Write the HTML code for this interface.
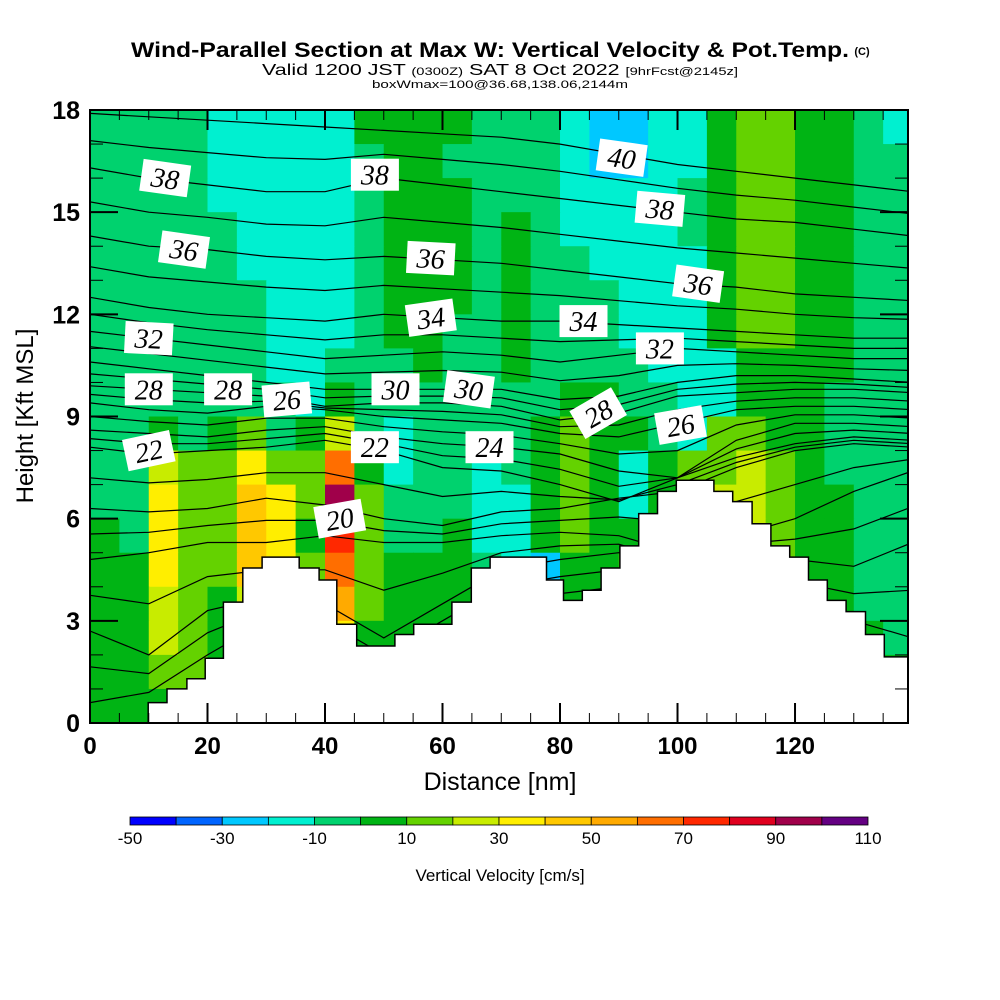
<!DOCTYPE html>
<html><head><meta charset="utf-8"><style>
html,body{margin:0;padding:0;background:#fff;}
svg{display:block;font-family:"Liberation Sans",sans-serif;}
</style></head><body>
<svg id="chart" width="1000" height="1000" viewBox="0 0 1000 1000">
<defs><clipPath id="plotclip"><rect x="90" y="110" width="818" height="613"/></clipPath></defs>
<g>
<text x="490" y="57" text-anchor="middle" font-size="21" font-weight="bold" textLength="718" lengthAdjust="spacingAndGlyphs">Wind-Parallel Section at Max W: Vertical Velocity &amp; Pot.Temp.</text>
<text x="862" y="55" text-anchor="middle" font-size="11" font-weight="bold">(C)</text>
<text x="500" y="75" text-anchor="middle" font-size="16" textLength="476" lengthAdjust="spacingAndGlyphs">Valid 1200 JST <tspan font-size="11">(0300Z)</tspan> SAT 8 Oct 2022 <tspan font-size="11">[9hrFcst@2145z]</tspan></text>
<text x="500" y="88" text-anchor="middle" font-size="11" textLength="256" lengthAdjust="spacingAndGlyphs">boxWmax=100@36.68,138.06,2144m</text>
</g>
<g id="field" clip-path="url(#plotclip)"></g>
<g id="isen" clip-path="url(#plotclip)"></g>
<g id="terrain" clip-path="url(#plotclip)"></g>
<g id="labels"></g>
<rect x="90" y="110" width="818" height="613" fill="none" stroke="#000" stroke-width="2"/>
<g id="axes"></g>
<text x="500" y="790" text-anchor="middle" font-size="25">Distance [nm]</text>
<text transform="translate(33,416) rotate(-90)" text-anchor="middle" font-size="24">Height [Kft MSL]</text>
<g id="cbar"></g>
<text x="500" y="881" text-anchor="middle" font-size="17">Vertical Velocity [cm/s]</text>
</svg>
<script>
// ---- data ----
const colCenters=[2.5,7.5,12.5,17.5,22.5,27.5,32.5,37.5,42.5,47.5,52.5,57.5,62.5,67.5,72.5,77.5,82.5,87.5,92.5,97.5,102.5,107.5,112.5,117.5,122.5,127.5,132.5,137.5];
const rowCenters=[17.5,16.5,15.5,14.5,13.5,12.5,11.5,10.5,9.5,8.5,7.5,6.5,5.5,4.5,3.5,2.5,1.5,0.5];
const wRow0=[-5,-5,-5,-5,-15,-15,-15,-15,-15,5,5,5,5,-5,-5,-5,-15,-25,-25,-15,-15,5,15,15,5,5,-5,-15];
const wRow1=[-5,-5,-5,-5,-15,-15,-15,-15,-15,-5,5,5,-5,-5,-5,-5,-15,-25,-25,-15,-15,5,15,15,5,5,-5,-5];
const wRow2=[-5,-5,-5,-5,-15,-15,-15,-15,-15,-5,5,5,5,-5,-5,-5,-15,-15,-15,-15,-5,5,15,15,5,5,-5,-5];
const wRow3=[-5,-5,-5,-5,-5,-15,-15,-15,-15,-5,5,5,5,-5,5,-5,-15,-15,-15,-15,-5,5,15,15,5,5,-5,-5];
const wRow4=[-5,-5,-5,-5,-5,-15,-15,-15,-15,-5,5,5,5,-5,5,-5,-5,-15,-15,-15,-15,5,15,15,5,5,-5,-5];
const wRow5=[-5,-5,-5,-5,-5,-5,-15,-15,-15,-5,5,5,5,-5,5,-5,-5,-5,-15,-15,-15,5,15,15,5,5,-5,-5];
const wRow6=[-5,-5,-5,-5,-5,-5,-15,-15,-15,-5,5,5,-5,-5,5,-5,-5,-5,-15,-15,-15,5,15,15,5,5,-5,-5];
const wRow7=[-5,-5,-5,-5,-5,-5,-15,-15,-5,-5,-5,5,-5,-5,5,-5,-5,-5,-5,-15,-15,-15,5,5,5,5,-5,-5];
const wRow8=[-5,-5,-5,-5,-5,-5,-5,-15,5,-5,-5,-5,-5,-5,-5,-5,5,5,-5,-5,-15,-15,5,5,5,-5,-5,-5];
const wRow9=[-5,-5,5,-5,5,15,-5,5,25,-5,-15,-5,-5,-5,-5,5,15,5,5,-5,-15,15,15,5,5,-5,-5,-5];
const wRow10=[-5,-5,25,15,15,35,15,15,65,5,-15,-5,-5,-15,-5,5,15,5,-15,5,15,15,25,15,5,-5,-5,-5];
const wRow11=[-5,-5,35,15,15,45,35,15,95,15,-5,-5,-5,-15,-15,5,15,5,-15,5,15,25,25,15,5,5,-5,-5];
const wRow12=[5,-5,35,15,15,45,35,5,75,15,-5,-5,5,-15,-15,5,15,5,5,5,15,25,25,15,5,5,-5,-5];
const wRow13=[5,5,35,15,15,45,35,15,65,15,5,5,5,-5,-15,-25,5,5,15,15,15,15,25,15,5,5,-5,-5];
const wRow14=[5,5,25,15,5,25,15,15,55,15,5,5,5,5,5,5,5,5,15,15,15,15,15,15,5,5,-5,-5];
const wRow15=[5,5,25,15,5,15,5,5,35,5,5,5,5,5,5,5,5,5,5,5,5,5,5,5,5,5,5,-5];
const wRow16=[5,5,15,15,5,5,5,5,15,5,5,5,5,5,5,5,5,5,5,5,5,5,5,5,5,5,5,5];
const wRow17=[5,5,5,5,5,5,5,5,5,5,5,5,5,5,5,5,5,5,5,5,5,5,5,5,5,5,5,5];
const wRows=[wRow0,wRow1,wRow2,wRow3,wRow4,wRow5,wRow6,wRow7,wRow8,wRow9,wRow10,wRow11,wRow12,wRow13,wRow14,wRow15,wRow16,wRow17];

const thetaX=[0,10,20,30,40,50,60,70,80,90,100,110,120,130,140];
const theta40=[17.9,17.8,17.7,17.6,17.5,17.4,17.3,17.2,17.0,16.7,16.4,16.2,16.0,15.8,15.6];
const theta38=[16.3,16.0,15.8,15.6,15.6,16.0,15.8,15.6,15.4,15.2,15.0,14.8,14.7,14.5,14.3];
const theta36=[14.3,14.0,13.9,13.7,13.6,13.7,13.6,13.5,13.3,13.1,12.9,12.8,12.6,12.5,12.4];
const theta34=[12.5,12.2,12.0,11.9,11.8,12.0,11.9,11.8,11.8,11.7,11.6,11.5,11.4,11.3,11.3];
const theta32=[11.5,11.3,11.1,10.9,10.7,10.8,10.9,10.8,10.6,10.8,11.0,10.9,10.8,10.7,10.7];
const theta30=[10.6,10.4,10.2,10.0,9.8,9.8,9.8,9.8,9.5,9.6,10.0,10.2,10.2,10.1,10.0];
const theta28=[9.9,9.8,9.7,9.6,9.3,9.4,9.4,9.3,8.9,9.1,9.6,9.7,9.8,9.8,9.7];
const theta26=[9.4,9.2,9.1,9.3,9.2,9.0,8.9,8.8,8.5,8.4,8.8,9.2,9.3,9.3,9.2];
const theta24=[8.6,8.5,8.4,8.6,8.7,8.4,8.2,8.1,7.9,7.4,7.2,8.3,8.8,8.8,8.7];
const theta22=[8.1,7.9,8.0,8.1,8.3,8.0,7.5,7.4,7.0,6.5,7.2,7.8,8.2,8.4,8.3];
const theta20=[6.3,6.2,6.3,6.6,6.4,6.0,5.8,6.2,6.3,6.6,6.8,7.5,8.0,8.2,8.1];
const theta18=[4.8,5.0,5.3,5.3,5.5,5.3,5.3,5.5,5.6,5.5,5.0,5.5,6.0,6.8,7.4];
const theta16=[2.7,2.0,3.3,3.7,3.5,2.5,3.5,4.5,4.8,5.0,4.5,5.0,4.8,4.6,5.3];
const theta14=[0.6,0.9,2.0,3.0,2.5,1.5,2.5,3.5,3.8,4.0,3.0,3.5,3.5,3.0,2.5];
const thetaLines=[theta40,theta38,theta36,theta34,theta32,theta30,theta28,theta26,theta24,theta22,theta20,theta18,theta16,theta14];

const terrX=[0,9.9,13.1,16.5,19.6,22.7,26,29.3,35.6,39,42,45.4,51.9,55.1,61.6,64.9,68.1,77.7,80.6,83.8,87,90.2,93.4,96.6,99.8,106.2,109.4,112.7,115.9,119.1,122.3,125.5,128.7,132,135.2,139.5];
const terrH=[0,0.6,1.0,1.3,1.9,3.55,4.55,4.87,4.55,4.2,2.9,2.26,2.6,2.9,3.55,4.55,4.87,4.2,3.6,3.9,4.55,5.2,6.15,6.8,7.13,6.8,6.5,5.85,5.2,4.87,4.2,3.6,3.27,2.6,1.94,1.94];

const labelText=["38","38","40","38","36","36","36","34","34","32","32","28","28","26","30","30","28","26","22","22","24","20"];
const labelX=[12.8,48.5,90.5,97,16,58,103.5,58,84,10,97,10,23.5,33.5,52,64.5,86.5,100.5,10,48.5,68,42.5];
const labelY=[16.0,16.1,16.6,15.1,13.9,13.65,12.9,11.9,11.8,11.3,11.0,9.8,9.8,9.5,9.8,9.8,9.1,8.75,8.0,8.1,8.1,6.0];
const labelRot=[8,0,8,5,8,3,8,-8,0,3,0,0,0,-5,0,8,-30,-10,-12,0,0,-10];

const cbarVals=[-50,-40,-30,-20,-10,0,10,20,30,40,50,60,70,80,90,100];
const cbarTicks=["-50","-30","-10","10","30","50","70","90","110"];
const xTicks=[0,20,40,60,80,100,120];
const yTicks=[0,3,6,9,12,15,18];

// ---- helpers ----
const NS="http://www.w3.org/2000/svg";
const X0=90,X1=908,Y0=723,Y1=110,XMAX=139.23,YMAX=18;
const sx=v=>X0+(v/XMAX)*(X1-X0);
const sy=v=>Y0-(v/YMAX)*(Y0-Y1);
const palette=["#0000ff","#0064ff","#00c8ff","#00f0d0","#00d26e","#00b414","#64d200","#c8ec00","#ffee00","#ffc800","#ffaa00","#ff6e00","#ff2800","#e0001e","#a0004a","#640082"];
const colorOf=v=>palette[Math.max(0,Math.min(15,Math.floor((v+50)/10)))];
function mk(tag,attrs,parent){const e=document.createElementNS(NS,tag);for(const k in attrs)e.setAttribute(k,attrs[k]);parent.appendChild(e);return e;}

// field
const field=document.getElementById('field');
wRows.forEach((row,ri)=>{row.forEach((v,ci)=>{
  const x=sx(colCenters[ci]-2.5),x2=sx(colCenters[ci]+2.5);
  const y=sy(rowCenters[ri]+0.5),y2=sy(rowCenters[ri]-0.5);
  const r=mk('rect',{x:x,y:y,width:x2-x+0.6,height:y2-y+0.6,fill:colorOf(v)},field);
  
  
});});

// isentropes
const isen=document.getElementById('isen');
function drawLine(h){
  const d=h.map((v,i)=>(i?'L':'M')+sx(thetaX[i]).toFixed(1)+','+sy(v).toFixed(1)).join('');
  const p=mk('path',{d:d,fill:'none',stroke:'#000','stroke-width':1.2},isen);
  
  
}
thetaLines.forEach((h,i)=>{
  drawLine(h);
  if(i<thetaLines.length-1){const n=thetaLines[i+1];drawLine(h.map((v,k)=>(v+n[k])/2));}
});

// terrain
const terr=document.getElementById('terrain');
let d='M'+sx(0)+','+(Y0+2);
terrX.forEach((x,i)=>{d+='L'+sx(x).toFixed(1)+','+sy(terrH[i]).toFixed(1);if(i<terrX.length-1)d+='L'+sx(terrX[i+1]).toFixed(1)+','+sy(terrH[i]).toFixed(1);});
d+='L'+(X1+2)+','+(Y0+2)+'Z';
const tp=mk('path',{d:d,fill:'#fff',stroke:'#000','stroke-width':1.5},terr);



// labels
const lab=document.getElementById('labels');
labelText.forEach((t,i)=>{
  const g=mk('g',{transform:`translate(${sx(labelX[i]).toFixed(1)},${sy(labelY[i]).toFixed(1)}) rotate(${labelRot[i]})`},lab);
  
  
  mk('rect',{x:-24,y:-16,width:48,height:32,fill:'#fff'},g);
  const tx=mk('text',{x:0,y:10,'text-anchor':'middle','font-size':28,'font-family':'"Liberation Serif",serif','font-style':'italic'},g);
  tx.textContent=t;
});

// axes ticks
const ax=document.getElementById('axes');
for(let v=0;v<=135;v+=5){const x=sx(v),big=v%20===0;
  mk('line',{x1:x,y1:Y0,x2:x,y2:Y0-(big?20:10),stroke:'#000','stroke-width':big?2:1},ax);
  mk('line',{x1:x,y1:Y1,x2:x,y2:Y1+(big?20:10),stroke:'#000','stroke-width':big?2:1},ax);}
for(let v=0;v<=18;v+=1){const y=sy(v),big=v%3===0;
  mk('line',{x1:X0,y1:y,x2:X0+(big?28:13),y2:y,stroke:'#000','stroke-width':big?2:1},ax);
  mk('line',{x1:X1,y1:y,x2:X1-(big?28:13),y2:y,stroke:'#000','stroke-width':big?2:1},ax);}
xTicks.forEach(v=>{const t=mk('text',{x:sx(v),y:754,'text-anchor':'middle','font-size':24,'font-weight':'bold'},ax);t.textContent=v;
  });
yTicks.forEach(v=>{const t=mk('text',{x:80,y:sy(v)+9,'text-anchor':'end','font-size':25,'font-weight':'bold'},ax);t.textContent=v;
  });

// colorbar
const cb=document.getElementById('cbar');
const CB0=130,CB1=868,bw=(CB1-CB0)/cbarVals.length;
cbarVals.forEach((v,i)=>{const r=mk('rect',{x:CB0+i*bw,y:817,width:bw,height:8,fill:colorOf(v+5),stroke:'#000','stroke-width':0.8},cb);
  });
cbarTicks.forEach((t,i)=>{const e=mk('text',{x:CB0+i*2*bw,y:844,'text-anchor':'middle','font-size':17},cb);e.textContent=t;
  });
</script>
</body></html>
